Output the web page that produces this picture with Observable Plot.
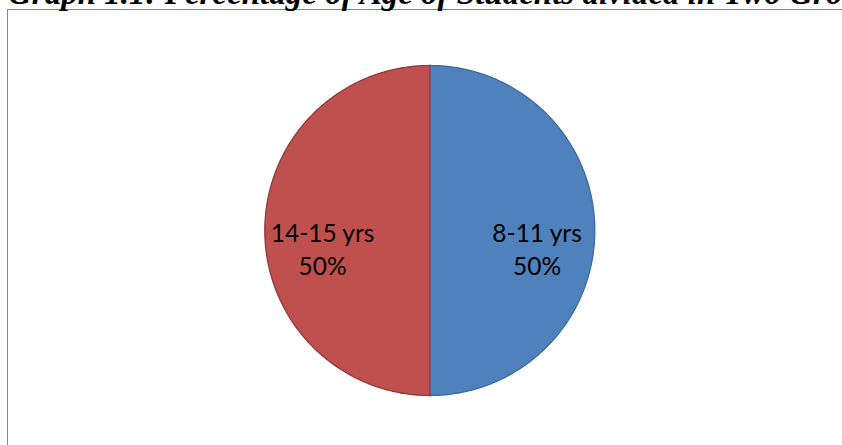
<!DOCTYPE html>
<html>
<head>
<meta charset="utf-8">
<script src="https://cdn.jsdelivr.net/npm/d3@7"></script>
<script src="https://cdn.jsdelivr.net/npm/@observablehq/plot@0.6"></script>
<style>
  html, body { margin: 0; padding: 0; background: #fff; }
  #page { position: relative; width: 842px; height: 445px; overflow: hidden; background: #fff; }
  #box { position: absolute; left: 7px; top: 9px; width: 900px; height: 500px; border: 1px solid #878787; box-sizing: border-box; }
  #chart { position: absolute; left: 0; top: 0; }
  #title { position: absolute; left: 8px; top: -23px; white-space: nowrap;
           font: italic bold 33px/33px "Liberation Serif", "Times New Roman", serif; color: #000; }
</style>
</head>
<body>
<div id="page">
  <div id="box"></div>
  <div id="chart"></div>
  <div id="title">Graph 1.1: Percentage of Age of Students divided in Two Groups</div>
</div>
<script>
// Age groups and their share of students
const categories = ["8-11 yrs", "14-15 yrs"];
const percents = [50, 50];

// Slice fill and outline colours (same order as categories)
const fills = ["#4F81BD", "#C0504D"];
const outlines = ["#3A6A9F", "#8E3B39"];

const W = 842, H = 445;
const cx = 429.3, cy = 230, R = 165;   // pie centre and radius in pixels

// Angles start at 12 o'clock and run clockwise
const arcs = d3.pie().sort(null).value(d => d.value)(
  categories.map((c, i) => ({category: c, value: percents[i]}))
);

// Outline of each slice in unit-radius coordinates (y up)
function slicePoints(a) {
  const pts = [{x: 0, y: 0}];
  const n = Math.max(2, Math.ceil((a.endAngle - a.startAngle) / (Math.PI / 360)));
  for (let k = 0; k <= n; k++) {
    const t = a.startAngle + (a.endAngle - a.startAngle) * k / n;
    pts.push({x: Math.sin(t), y: Math.cos(t)});
  }
  return pts;
}

const labelRadius = 0.65;
const labels = arcs.map(a => {
  const m = (a.startAngle + a.endAngle) / 2;
  return {
    x: labelRadius * Math.sin(m),
    y: labelRadius * Math.cos(m),
    text: `${a.data.category}\n${a.data.value}%`
  };
});

const chart = Plot.plot({
  width: W,
  height: H,
  margin: 0,
  x: {domain: [-cx / R, (W - cx) / R], axis: null},
  y: {domain: [-(H - cy) / R, cy / R], axis: null},
  style: {background: "transparent", overflow: "visible"},
  marks: [
    ...arcs.map((a, i) => Plot.line(slicePoints(a), {
      x: "x", y: "y",
      curve: "linear-closed",
      fill: fills[i],
      stroke: outlines[i],
      strokeWidth: 1.3,
      strokeLinejoin: "round"
    })),
    Plot.text(labels, {
      x: "x", y: "y", text: "text",
      dy: 17,
      lineHeight: 1.36,
      fontSize: 24.5,
      fontFamily: "Lato, 'Noto Sans', sans-serif",
      fill: "#000",
      textAnchor: "middle"
    })
  ]
});

document.getElementById("chart").appendChild(chart);
</script>
</body>
</html>
